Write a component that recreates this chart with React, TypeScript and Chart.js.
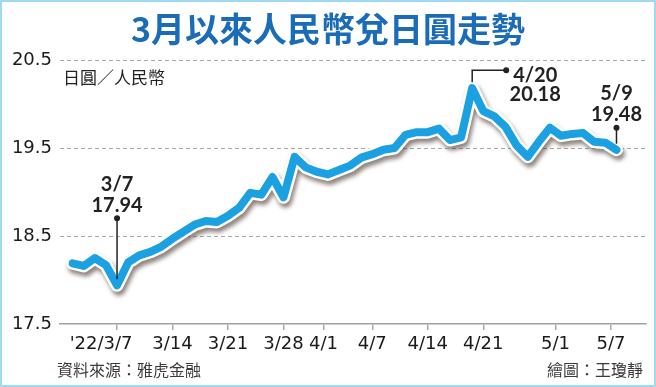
import React, { useEffect, useRef } from "react";
import { Chart, registerables } from "chart.js";

Chart.register(...registerables);

// Trading days (weekdays) 2022/3/1 – 2022/5/9
const dates = [
  "3/1", "3/2", "3/3", "3/4", "3/7", "3/8", "3/9", "3/10", "3/11",
  "3/14", "3/15", "3/16", "3/17", "3/18", "3/21", "3/22", "3/23", "3/24", "3/25",
  "3/28", "3/29", "3/30", "3/31", "4/1", "4/4", "4/5", "4/6", "4/7", "4/8",
  "4/11", "4/12", "4/13", "4/14", "4/15", "4/18", "4/19", "4/20", "4/21", "4/22",
  "4/25", "4/26", "4/27", "4/28", "4/29", "5/2", "5/3", "5/4", "5/5", "5/6", "5/9",
];

// JPY per CNY
const rates = [
  18.19, 18.16, 18.25, 18.17, 17.94, 18.2, 18.28, 18.32, 18.38,
  18.47, 18.55, 18.63, 18.67, 18.66, 18.73, 18.82, 18.99, 18.97, 19.17,
  18.94, 19.4, 19.28, 19.23, 19.2, 19.25, 19.3, 19.39, 19.43, 19.48,
  19.5, 19.65, 19.68, 19.68, 19.72, 19.59, 19.62, 20.18, 19.92, 19.86,
  19.74, 19.53, 19.4, 19.57, 19.73, 19.64, 19.66, 19.67, 19.57, 19.56, 19.48,
];

const xTickPositions = [4, 9, 14, 19, 22.6, 27, 32, 37, 43.5, 48.5];
const xTickLabels = ["'22/3/7", "3/14", "3/21", "3/28", "4/1", "4/7", "4/14", "4/21", "5/1", "5/7"];
const yTicks = [17.5, 18.5, 19.5, 20.5];

const calloutIndex = [4, 36, 49];
const calloutStyle = ["up", "elbow", "up"];

const title = "3月以來人民幣兌日圓走勢";
const unitLabel = "日圓／人民幣";
const sourceLabel = "資料來源：雅虎金融";
const creditLabel = "繪圖：王瓊靜";

export default function App() {
  const canvasRef = useRef<HTMLCanvasElement | null>(null);

  useEffect(() => {
    document.body.style.margin = "0";
    const canvas = canvasRef.current;
    if (!canvas) return;

    const points = rates.map((v, i) => ({ x: i, y: v }));

    const shadowPlugin = {
      id: "lineShadow",
      beforeDatasetDraw(chart: any, args: any) {
        if (args.index === 1) {
          const ctx = chart.ctx;
          ctx.save();
          ctx.shadowColor = "rgba(70,50,40,0.6)";
          ctx.shadowBlur = 4;
          ctx.shadowOffsetX = 2;
          ctx.shadowOffsetY = 4;
        }
      },
      afterDatasetDraw(chart: any, args: any) {
        if (args.index === 1) chart.ctx.restore();
      },
    };

    const calloutPlugin = {
      id: "callouts",
      afterDatasetsDraw(chart: any) {
        const ctx = chart.ctx;
        const meta = chart.getDatasetMeta(0);
        ctx.save();
        ctx.strokeStyle = "#222";
        ctx.fillStyle = "#222";
        ctx.lineWidth = 1.5;
        ctx.font = "bold 20px Lato";
        ctx.textAlign = "center";
        ctx.textBaseline = "middle";
        calloutIndex.forEach((idx, k) => {
          const pt = meta.data[idx];
          const px = pt.x;
          const py = pt.y;
          const d = dates[idx];
          const v = rates[idx].toFixed(2);
          if (calloutStyle[k] === "up") {
            const dotY = idx === 4 ? py - 67 : py - 22;
            ctx.beginPath();
            ctx.moveTo(px, py - 6);
            ctx.lineTo(px, dotY);
            ctx.stroke();
            ctx.beginPath();
            ctx.arc(px, dotY, 3, 0, Math.PI * 2);
            ctx.fill();
            ctx.fillText(d, px, dotY - 34);
            ctx.fillText(v, px, dotY - 13);
          } else {
            const elbowY = py - 18;
            const endX = px + 34;
            ctx.beginPath();
            ctx.moveTo(px, py - 6);
            ctx.lineTo(px, elbowY);
            ctx.lineTo(endX, elbowY);
            ctx.stroke();
            ctx.beginPath();
            ctx.arc(endX, elbowY, 3, 0, Math.PI * 2);
            ctx.fill();
            ctx.fillText(d, px + 63, py - 13);
            ctx.fillText(v, px + 63, py + 6);
          }
        });
        ctx.restore();
      },
    };

    const chart = new Chart(canvas, {
      type: "line",
      data: {
        datasets: [
          {
            data: points,
            borderColor: "#1ba0e2",
            borderWidth: 8,
            borderJoinStyle: "round",
            borderCapStyle: "round",
            pointRadius: 0,
            tension: 0,
            order: 1,
          },
          {
            data: points,
            borderColor: "#ffffff",
            borderWidth: 13,
            borderJoinStyle: "round",
            borderCapStyle: "round",
            pointRadius: 0,
            tension: 0,
            order: 2,
          },
        ],
      },
      options: {
        animation: false,
        responsive: false,
        devicePixelRatio: 1,
        layout: { autoPadding: false, padding: { top: 60, right: 10, left: 0, bottom: 0 } },
        plugins: { legend: { display: false }, tooltip: { enabled: false }, title: { display: false } },
        scales: {
          x: {
            type: "linear",
            min: -1.14,
            max: 51.66,
            afterBuildTicks: (scale: any) => {
              scale.ticks = xTickPositions.map((v) => ({ value: v }));
            },
            afterFit: (scale: any) => {
              scale.height = 63;
            },
            ticks: {
              autoSkip: false,
              maxRotation: 0,
              padding: 4,
              color: "#1a1a1a",
              font: { family: "DejaVu Sans", size: 18 },
              callback: (val: any) => {
                const i = xTickPositions.indexOf(Number(val));
                if (i < 0) return "";
                // first label carries the year prefix; keep "3/7" under its tick
                return i === 0 ? xTickLabels[i] + "\u2007\u2007" + "\u2002" : xTickLabels[i];
              },
            },
            grid: {
              display: true,
              drawOnChartArea: false,
              drawTicks: true,
              tickLength: 6,
              color: "#aaaaaa",
              lineWidth: 1.5,
            },
            border: { display: true, color: "#a0a0a0", width: 1.5 },
          },
          y: {
            type: "linear",
            min: 17.5,
            max: 20.5,
            afterBuildTicks: (scale: any) => {
              scale.ticks = yTicks.map((v) => ({ value: v }));
            },
            afterFit: (scale: any) => {
              scale.width = 60;
            },
            ticks: {
              padding: 8,
              color: "#1a1a1a",
              font: { family: "DejaVu Sans", size: 18 },
              callback: (val: any) => Number(val).toFixed(1),
            },
            grid: {
              drawTicks: false,
              color: (c: any) => (c.tick && c.tick.value === 17.5 ? "rgba(0,0,0,0)" : "#a8a8a8"),
              lineWidth: 1,
            },
            border: { display: false, dash: [4, 3] },
          },
        },
      },
      plugins: [shadowPlugin, calloutPlugin],
    } as any);

    return () => chart.destroy();
  }, []);

  const cjk = '"Noto Sans CJK TC", "Noto Sans CJK SC", sans-serif';

  return (
    <div style={{ position: "relative", width: 656, height: 387, background: "#fff", overflow: "hidden" }}>
      <canvas ref={canvasRef} width={656} height={387} style={{ position: "absolute", left: 0, top: 0, width: 656, height: 387, display: "block" }} />
      <div
        style={{
          position: "absolute",
          left: 0,
          top: 0,
          width: 656,
          height: 56,
          lineHeight: "56px",
          textAlign: "center",
          fontFamily: cjk,
          fontWeight: 700,
          fontSize: 34,
          color: "#1a6cb8",
        }}
      >
        {title}
      </div>
      <div style={{ position: "absolute", left: 63, top: 67, lineHeight: "20px", fontFamily: cjk, fontSize: 17, color: "#222" }}>
        {unitLabel}
      </div>
      <div style={{ position: "absolute", left: 57, top: 359, lineHeight: "20px", fontFamily: cjk, fontSize: 16, color: "#3a3a3a" }}>
        {sourceLabel}
      </div>
      <div style={{ position: "absolute", right: 13, top: 359, lineHeight: "20px", fontFamily: cjk, fontSize: 16, color: "#3a3a3a" }}>
        {creditLabel}
      </div>
      <div
        style={{
          position: "absolute",
          left: 0,
          top: 0,
          width: 656,
          height: 387,
          boxSizing: "border-box",
          border: "2px solid #9fd9f3",
          pointerEvents: "none",
        }}
      />
    </div>
  );
}
